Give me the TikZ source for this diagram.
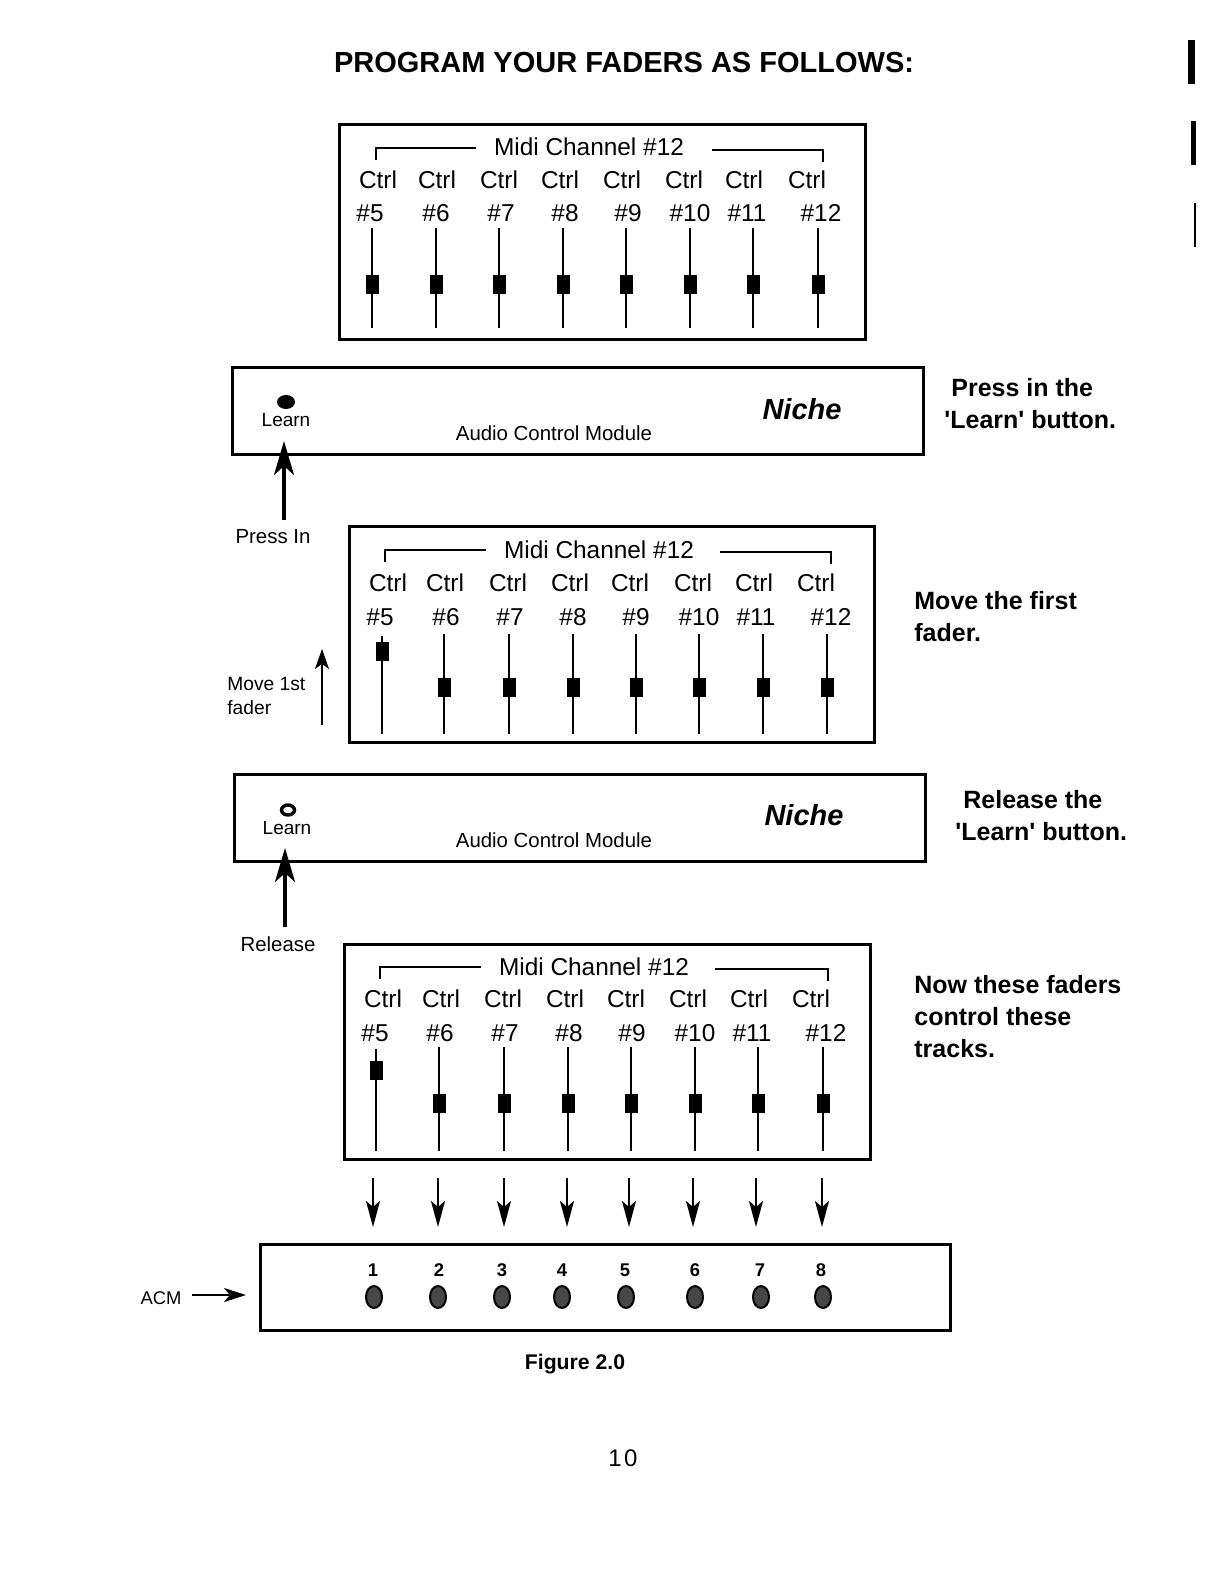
\documentclass[tikz,border=0pt]{standalone}
\usepackage{fontspec}
\setmainfont{Liberation Sans}
\usetikzlibrary{arrows.meta,shapes.geometric}
\begin{document}
\begin{tikzpicture}[x=0.5pt,y=-0.5pt,
  frame/.style={draw=black, line width=1.7pt, inner sep=0pt, anchor=north west},
  rail/.style={line width=1.3pt},
  knob/.style={fill=black, inner sep=0pt, minimum width=6.5pt, minimum height=9.5pt},
  ctrltxt/.style={inner sep=0pt, font=\fontsize{12.2}{14}\selectfont},
  brk/.style={line width=1.2pt},
  smalltxt/.style={inner sep=0pt, font=\fontsize{10.2}{12}\selectfont},
  learntxt/.style={inner sep=0pt, font=\fontsize{9.5}{11}\selectfont},
  nichetxt/.style={inner sep=0pt, font=\fontsize{14.5}{17}\selectfont\bfseries\itshape},
  note/.style={inner sep=0pt, anchor=north west, align=left, font=\fontsize{12.5}{16}\selectfont\bfseries},
  bigarrow/.style={line width=1.8pt, -{Stealth[length=17pt,width=10pt,inset=4.5pt]}},
  midarrow/.style={line width=1.1pt, -{Stealth[length=10pt,width=7pt,inset=2.5pt]}},
  downarrow/.style={line width=1.3pt, -{Stealth[length=13pt,width=7pt,inset=3pt]}},
  led/.style={ellipse, draw=black, line width=1pt, fill=black!72, minimum width=8pt, minimum height=11pt, inner sep=0pt},
  lednum/.style={inner sep=0pt, font=\fontsize{9.2}{11}\selectfont\bfseries}
]
\useasboundingbox (0,0) rectangle (1224,1584);
\fill[white] (0,0) rectangle (1224,1584);

% scan marks at right edge
\fill[black] (1188,40) rectangle (1195,84);
\fill[black] (1191,121) rectangle (1196,165);
\fill[black] (1194,203) rectangle (1196,247);

% title
\node[inner sep=0pt, font=\fontsize{14.5}{17}\selectfont\bfseries] (title) at (624,63) {PROGRAM YOUR FADERS AS FOLLOWS:};

% ---------- panel 1 ----------
\node[frame, minimum width=263pt, minimum height=107.5pt] (p1) at (338,123) {};
\node[ctrltxt] (p1m) at (589,147) {Midi Channel \#12};
\draw[brk] (376,160) -- (376,148) -- (476,148);
\draw[brk] (712,150) -- (823,150) -- (823,162);
\foreach \i/\cx/\hx/\fx [count=\n] in {5/378/370/372, 6/437/436/436, 7/499/501/499, 8/560/565/563, 9/622/628/626, 10/684/690/690, 11/744/747/753, 12/807/821/818}{
  \node[ctrltxt] (p1c\n) at (\cx,180) {Ctrl};
  \node[ctrltxt] (p1h\n) at (\hx,213) {\#\i};
  \draw[rail] (\fx,228) -- (\fx,328);
  \node[knob] (p1k\n) at (\fx,284) {};
}

% ---------- learn box 1 ----------
\node[frame, minimum width=345.5pt, minimum height=43.5pt] (lb1) at (231,366) {};
\node[ellipse, fill=black, minimum width=9pt, minimum height=7pt, inner sep=0pt] (btn1) at (286,402) {};
\node[learntxt] (lrn1) at (286,420) {Learn};
\node[smalltxt] (acm1) at (554,433) {Audio Control Module};
\node[nichetxt] (nic1) at (802,409) {Niche};
\node[note] (t1) at (944,378) {\hspace*{3.5pt}Press in the\\\textquotesingle Learn\textquotesingle{} button.};
\coordinate (a1s) at (284,520);
\coordinate (a1e) at (284,441);
\draw[bigarrow] (a1s) -- (a1e);
\node[smalltxt] (pressin) at (273,537) {Press In};

% ---------- panel 2 ----------
\node[frame, minimum width=262.5pt, minimum height=108pt] (p2) at (348,525) {};
\node[ctrltxt] (p2m) at (599,550) {Midi Channel \#12};
\draw[brk] (385,562) -- (385,550) -- (486,550);
\draw[brk] (720,552) -- (831,552) -- (831,564);
\foreach \i/\cx/\hx/\fx [count=\n] in {5/388/380/382, 6/445/446/444, 7/508/510/509, 8/570/573/573, 9/630/636/636, 10/693/699/699, 11/754/756/763, 12/816/831/827}{
  \node[ctrltxt] (p2c\n) at (\cx,583) {Ctrl};
  \node[ctrltxt] (p2h\n) at (\hx,617) {\#\i};
}
\foreach \fx [count=\n] in {444,509,573,636,699,763,827}{
  \draw[rail] (\fx,634) -- (\fx,734);
  \node[knob] (p2k\n) at (\fx,687) {};
}
\draw[rail] (382,636) -- (382,734);
\node[knob] (p2k0) at (382,651) {};
\node[inner sep=0pt, anchor=north west, align=left, font=\fontsize{9.6}{12}\selectfont] (move) at (227,677) {Move 1st\\fader};
\coordinate (a2s) at (322,725);
\coordinate (a2e) at (322,649);
\draw[midarrow] (a2s) -- (a2e);
\node[note] (t2) at (914,591) {Move the first\\fader.};

% ---------- learn box 2 ----------
\node[frame, minimum width=345.5pt, minimum height=43.5pt] (lb2) at (233,773) {};
\node[ellipse, draw=black, fill=white, line width=1.7pt, minimum width=6.5pt, minimum height=5pt, inner sep=0pt] (btn2) at (288,810) {};
\node[learntxt] (lrn2) at (287,828) {Learn};
\node[smalltxt] (acm2) at (554,840) {Audio Control Module};
\node[nichetxt] (nic2) at (804,815) {Niche};
\node[note] (t3) at (955,790) {\hspace*{4pt}Release the\\\textquotesingle Learn\textquotesingle{} button.};
\coordinate (a3s) at (285,927);
\coordinate (a3e) at (285,848);
\draw[bigarrow] (a3s) -- (a3e);
\node[smalltxt] (release) at (278,944) {Release};

% ---------- panel 3 ----------
\node[frame, minimum width=263pt, minimum height=107.5pt] (p3) at (343,943) {};
\node[ctrltxt] (p3m) at (594,967) {Midi Channel \#12};
\draw[brk] (380,979) -- (380,967) -- (481,967);
\draw[brk] (715,969) -- (828,969) -- (828,981);
\foreach \i/\cx/\hx [count=\n] in {5/383/375, 6/441/440, 7/503/505, 8/565/569, 9/626/632, 10/688/695, 11/749/752, 12/811/826}{
  \node[ctrltxt] (p3c\n) at (\cx,999) {Ctrl};
  \node[ctrltxt] (p3h\n) at (\hx,1033) {\#\i};
}
\foreach \fx [count=\n] in {439,504,568,631,695,758,823}{
  \draw[rail] (\fx,1047) -- (\fx,1151);
  \node[knob] (p3k\n) at (\fx,1103) {};
}
\draw[rail] (376,1049) -- (376,1151);
\node[knob] (p3k0) at (376,1070) {};
\node[note] (t4) at (914,975) {Now these faders\\control these\\tracks.};

% ---------- arrows down to ACM ----------
\foreach \ax [count=\n] in {373,438,504,567,629,693,756,822}{
  \coordinate (da\n) at (\ax,1178);
  \coordinate (db\n) at (\ax,1227);
  \draw[downarrow] (da\n) -- (db\n);
}

% ---------- LED box ----------
\node[frame, minimum width=345pt, minimum height=43pt] (ledbox) at (259,1243) {};
\foreach \nx/\lx [count=\n] in {373/374, 439/438, 502/502, 562/562, 625/626, 695/695, 760/761, 821/823}{
  \node[lednum] (num\n) at (\nx,1270) {\n};
  \node[led] (led\n) at (\lx,1297) {};
}
\node[smalltxt, font=\fontsize{9.2}{11}\selectfont] (acmlbl) at (161,1298) {ACM};
\coordinate (acmS) at (192,1295);
\coordinate (acmE) at (246,1295);
\draw[line width=1.3pt, -{Stealth[length=11pt,width=7pt,inset=3pt]}] (acmS) -- (acmE);

\node[inner sep=0pt, font=\fontsize{10.6}{12}\selectfont\bfseries] (fig) at (575,1364) {Figure 2.0};
\node[inner sep=0pt, font=\fontsize{12}{14}\selectfont] (pagenum) at (623,1458) {1\hspace{1.2pt}0};
\end{tikzpicture}
\end{document}
